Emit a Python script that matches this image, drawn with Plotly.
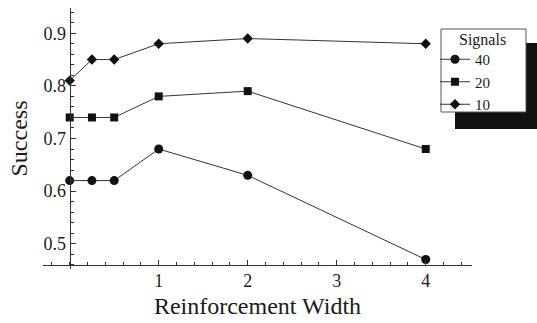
import plotly.graph_objects as go

# Reinforcement width values and success rates per number of signals
widths = [0, 0.25, 0.5, 1, 2, 4]
success_40 = [0.62, 0.62, 0.62, 0.68, 0.63, 0.47]
success_20 = [0.74, 0.74, 0.74, 0.78, 0.79, 0.68]
success_10 = [0.81, 0.85, 0.85, 0.88, 0.89, 0.88]

series_names = ["40", "20", "10"]
series_values = [success_40, success_20, success_10]
series_symbols = ["circle", "square", "diamond"]
series_sizes = [9, 8, 8]

x_ticks = [1, 2, 3, 4]
y_ticks = [0.5, 0.6, 0.7, 0.8, 0.9]

FONT = "Liberation Serif"
TEXT = "#1a1a1a"

W, H = 537, 323
L, R, T, B = 43, 65, 8, 54
x_range = [-0.3, 4.52]
y_range = [0.452, 0.948]
pw = W - L - R
ph = H - T - B


def px_x(p):
    """Pixel column -> paper x."""
    return (p - L) / pw


def px_y(p):
    """Pixel row (from top) -> paper y."""
    return (H - B - p) / ph


def font(size):
    return dict(family=FONT, size=size, color=TEXT)


fig = go.Figure()
for name, vals, sym, sz in zip(series_names, series_values, series_symbols, series_sizes):
    fig.add_trace(go.Scatter(
        x=widths, y=vals, name=name, mode="lines+markers",
        line=dict(color="#333333", width=1),
        marker=dict(symbol=sym, size=sz, color="#111111"),
        cliponaxis=False,
    ))

# y axis crosses at x = 0, x axis crosses at y = 0.46
y_axis_pos = (0 - x_range[0]) / (x_range[1] - x_range[0])
x_axis_pos = (0.46 - y_range[0]) / (y_range[1] - y_range[0])

fig.update_layout(
    width=W, height=H,
    margin=dict(l=L, r=R, t=T, b=B),
    paper_bgcolor="white", plot_bgcolor="white",
    font=font(18),
    xaxis=dict(
        range=x_range, showgrid=False, zeroline=False,
        showline=True, linecolor="#333333", linewidth=1,
        anchor="free", position=x_axis_pos,
        tickmode="array", tickvals=x_ticks, ticktext=[str(v) for v in x_ticks],
        ticks="inside", ticklen=5, tickcolor="#333333",
        minor=dict(tickmode="linear", tick0=0, dtick=0.2, ticks="inside",
                   ticklen=3, tickcolor="#333333"),
        tickfont=font(18),
        title=dict(text="Reinforcement Width", font=font(24), standoff=6),
    ),
    yaxis=dict(
        range=y_range, showgrid=False, zeroline=False,
        showline=True, linecolor="#333333", linewidth=1,
        anchor="free", position=y_axis_pos,
        tickmode="array", tickvals=y_ticks, ticktext=[str(v) for v in y_ticks],
        ticks="inside", ticklen=5, tickcolor="#333333",
        minor=dict(tickmode="linear", tick0=0.5, dtick=0.02, ticks="inside",
                   ticklen=3, tickcolor="#333333"),
        tickfont=font(18),
        title=dict(text="Success", font=font(24), standoff=8),
    ),
    # legend entries sit inside a framed box with a drop shadow
    legend=dict(
        x=px_x(435), y=px_y(43), xanchor="left", yanchor="top",
        bgcolor="rgba(0,0,0,0)", borderwidth=0,
        font=font(15), itemwidth=30,
    ),
    shapes=[
        dict(type="rect", xref="paper", yref="paper",
             x0=px_x(455), x1=px_x(540), y0=px_y(129), y1=px_y(43),
             fillcolor="#111111", opacity=1, line=dict(width=0), layer="above"),
        dict(type="rect", xref="paper", yref="paper",
             x0=px_x(441), x1=px_x(526), y0=px_y(112), y1=px_y(29),
             fillcolor="white", opacity=1, line=dict(color="#555555", width=1),
             layer="above"),
    ],
    annotations=[dict(
        text="Signals", xref="paper", yref="paper",
        x=px_x(483), y=px_y(40), xanchor="center", yanchor="middle",
        showarrow=False, font=font(16),
    )],
)

fig.write_html("out.html")
